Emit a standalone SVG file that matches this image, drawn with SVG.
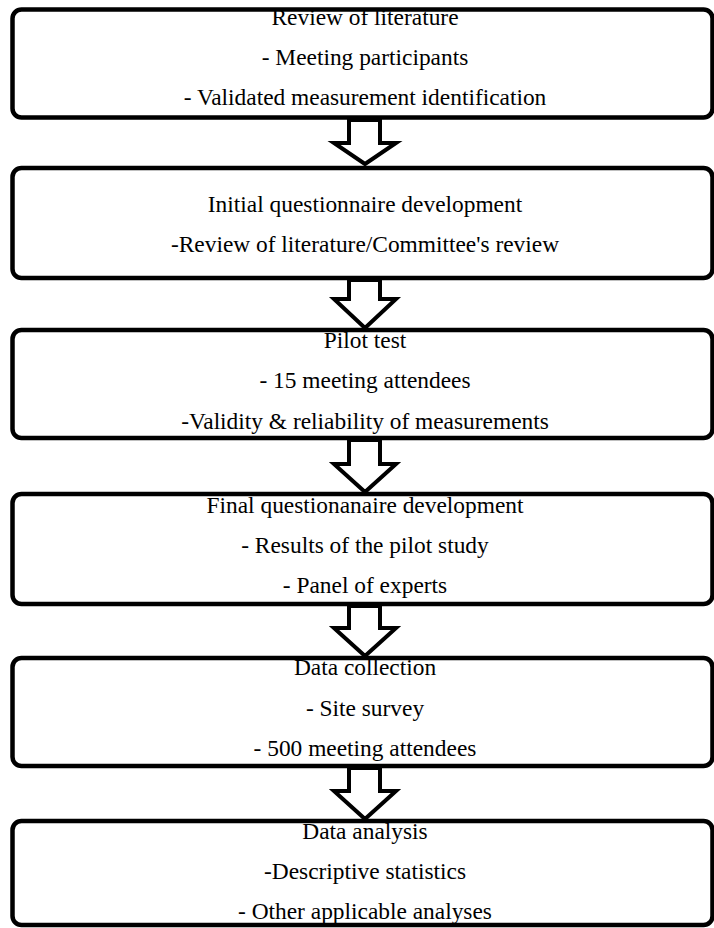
<svg xmlns="http://www.w3.org/2000/svg" width="714" height="928" viewBox="0 0 714 928">
  <style>
    .box { fill: #ffffff; stroke: #000000; stroke-width: 4.5; }
    .arrow { fill: #ffffff; stroke: #000000; stroke-width: 4; stroke-linejoin: miter; }
    text { font-family: "Liberation Serif", "Times New Roman", serif; font-size: 23.4px; fill: #000000; text-anchor: middle; }
  </style>
  <rect width="714" height="928" fill="#ffffff"/>

  <!-- hollow block arrows between stages -->
  <g id="connectors">
    <polygon class="arrow" points="349,120 380,120 380,143 396,143 365,164 334,143 349,143"/>
    <polygon class="arrow" points="349,280 380,280 380,299 396,299 365,328 334,299 349,299"/>
    <polygon class="arrow" points="349,440 380,440 380,464 396,464 365,492 334,464 349,464"/>
    <polygon class="arrow" points="349,606 380,606 380,628 396,628 365,656 334,628 349,628"/>
    <polygon class="arrow" points="349,768 380,768 380,791 396,791 365,819 334,791 349,791"/>
  </g>

  <g id="literature-review">
    <rect class="box" x="12.5" y="9.5" width="700" height="108" rx="9"/>
    <text x="365" y="25">Review of literature</text>
    <text x="365" y="65">- Meeting participants</text>
    <text x="365" y="105">- Validated measurement identification</text>
  </g>

  <g id="initial-questionnaire">
    <rect class="box" x="12.5" y="168" width="700" height="110" rx="9"/>
    <text x="365" y="212">Initial questionnaire development</text>
    <text x="365" y="252">-Review of literature/Committee's review</text>
  </g>

  <g id="pilot-test">
    <rect class="box" x="12.5" y="330" width="700" height="108" rx="9"/>
    <text x="365" y="348">Pilot test</text>
    <text x="365" y="388">- 15 meeting attendees</text>
    <text x="365" y="429">-Validity &amp; reliability of measurements</text>
  </g>

  <g id="final-questionnaire">
    <rect class="box" x="12.5" y="494" width="700" height="110" rx="9"/>
    <text x="365" y="513">Final questionanaire development</text>
    <text x="365" y="553">- Results of the pilot study</text>
    <text x="365" y="593">- Panel of experts</text>
  </g>

  <g id="data-collection">
    <rect class="box" x="12.5" y="658" width="700" height="108" rx="9"/>
    <text x="365" y="675">Data collection</text>
    <text x="365" y="716">- Site survey</text>
    <text x="365" y="756">- 500 meeting attendees</text>
  </g>

  <g id="data-analysis">
    <rect class="box" x="12.5" y="821" width="700" height="104" rx="9"/>
    <text x="365" y="839">Data analysis</text>
    <text x="365" y="879">-Descriptive statistics</text>
    <text x="365" y="919">- Other applicable analyses</text>
  </g>
</svg>
